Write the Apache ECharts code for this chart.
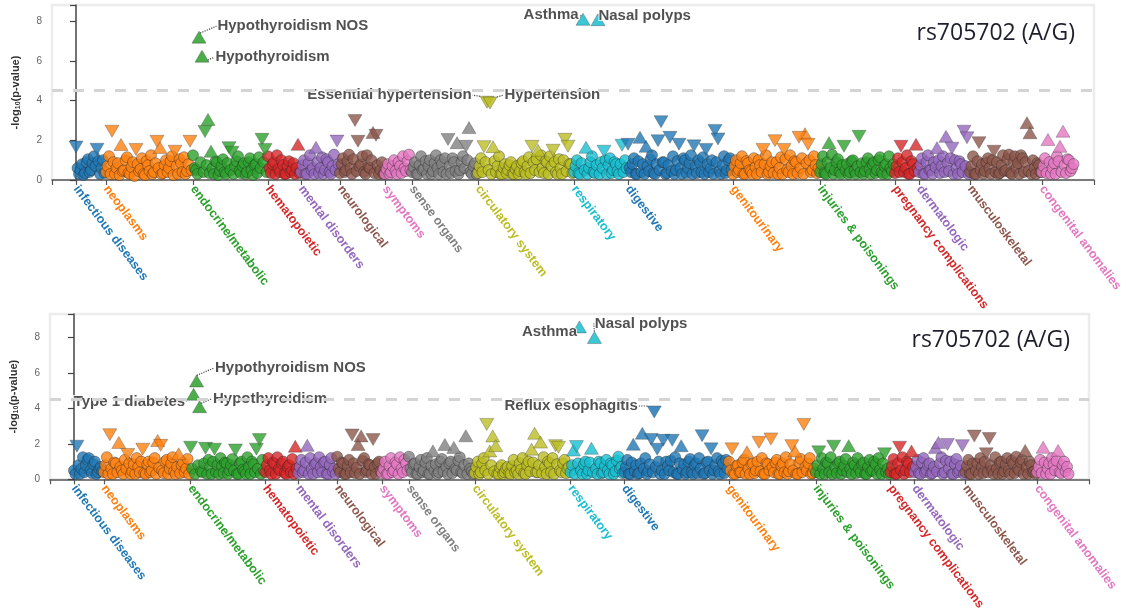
<!DOCTYPE html>
<html>
<head>
<meta charset="utf-8">
<title>PheWAS rs705702</title>
<script src="https://cdn.jsdelivr.net/npm/echarts@6/dist/echarts.min.js"></script>
<style>
  html, body { margin: 0; padding: 0; background: #fff; }
  #chart { width: 1131px; height: 613px; }
</style>
</head>
<body>
<div id="chart"></div>
<script>
// ---- data -------------------------------------------------------------
const snpLabel = 'rs705702 (A/G)';

const categories = [
  'infectious diseases', 'neoplasms', 'endocrine/metabolic', 'hematopoietic',
  'mental disorders', 'neurological', 'symptoms', 'sense organs',
  'circulatory system', 'respiratory', 'digestive', 'genitourinary',
  'injuries & poisonings', 'pregnancy complications', 'dermatologic',
  'musculoskeletal', 'congenital anomalies'
];

const categoryColors = [
  '#1f77b4', '#ff7f0e', '#2ca02c', '#d62728', '#9467bd', '#8c564b',
  '#e377c2', '#7f7f7f', '#bcbd22', '#17becf', '#1f77b4', '#ff7f0e',
  '#2ca02c', '#d62728', '#9467bd', '#8c564b', '#e377c2'
];

// -log10(p) for every phecode, in phecode order inside each category.
// Results with p < 0.05 carry a sign for the direction of effect:
// positive = risk (triangle up), negative = protective (triangle down).
const cohortA = [
  [-1.66,0.6, 0.3,0.5, 0.8,0.25, 0.35,0.9, 1.05,0.4, 0.5,0.85, 1.2,0.7, -1.55,0.95, 0.3,0.6, 1.0,0.35],
  [0.4,0.7, 1.2,0.3, -2.46,0.9, 0.3,0.6, 0.85,0.25, 1.79,0.45, 0.5,1.0, 1.15,0.35, 0.3,0.65, 0.9,0.2, -1.54,0.8, 0.45,0.55, 1.1,0.3, 0.25,0.95, 0.75,0.45, 1.25,0.3, 0.4,0.85, -1.95,0.6, 1.64,0.3, 0.35,0.75, 1.0,0.4, 0.6,0.95, 1.2,0.25, -1.45,0.7, 0.3,1.05, 0.85,0.4, 1.15,0.3, 0.45,0.8, -1.95,0.5],
  [1.25,0.6, 0.5,0.3, 7.2,0.9, 6.24,0.4, -2.44,0.75, 3.05,0.35, 1.45,0.6, 0.3,0.95, 0.9,0.25, 0.45,0.7, 1.05,0.4, 0.3,0.85, -1.63,0.5, -1.4,0.3, 0.7,0.95, 1.2,0.45, 0.35,0.7, 0.85,0.3, 0.4,0.9, 1.1,0.5, 0.25,0.75, 0.8,0.35, 1.15,0.6, -2.05,0.9, -1.54,0.4],
  [1.2,0.6, 0.35,0.8, 0.9,0.3, 1.25,0.55, 0.4,1.0, 0.75,0.3, 0.3,0.7, 0.95,0.4, 0.5,0.85, 0.3,0.6, 1.8,0.35],
  [0.4,0.75, 1.0,0.3, 0.3,0.85, 1.25,0.5, 0.6,0.3, 1.65,0.9, 0.35,0.6, 1.15,0.3, 0.5,1.05, 0.9,0.4, 0.3,0.7, 1.28,0.5, -1.96,0.8],
  [0.35,0.8, 1.1,0.4, 0.5,0.95, 1.28,0.6, 0.3,1.05, -3.0,0.45, -1.95,0.7, 0.8,1.2, 0.4,0.3, 1.25,0.65, 0.6,1.0, 2.4,0.35, -2.25,0.75, 0.3,0.5, 0.9,0.3],
  [0.3,0.55, 0.8,0.3, 0.4,0.7, 1.0,0.45, 0.3,0.9, 0.7,0.35, 1.2,0.6, 0.45,0.95, 1.28,0.5],
  [0.4,0.65, 0.9,0.3, 0.3,0.75, 1.2,0.5, 0.55,0.95, 0.3,0.7, 1.0,0.3, 0.45,0.85, 1.25,0.6, 0.3,1.0, 0.8,0.4, 1.1,0.3, -2.04,0.7, 0.35,1.1, 0.9,0.45, 1.88,0.3, 0.5,0.9, 1.2,0.6, -1.7,1.0, 2.64,0.4, 0.3,0.7, 0.85,0.3],
  [0.35,0.7, 1.1,0.4, -1.68,0.9, -3.92,0.5, -3.88,0.3, 1.68,0.95, 0.4,0.7, 1.2,0.3, 0.3,0.6, 0.8,0.35, 0.5,0.75, 0.9,0.3, 0.3,0.55, 0.7,0.3, 0.45,0.85, 0.95,0.4, 0.3,0.7, 1.15,0.35, -1.7,0.9, 0.5,1.05, 1.5,0.4, 1.25,0.6, 0.35,0.95, 0.9,0.3, 1.2,0.7, -1.5,0.9, 0.4,0.3, 1.05,0.6, 0.3,1.0, -2.05,0.45, -1.7,0.8, 0.8,0.35],
  [0.4,0.7, 1.0,0.35, 0.3,0.85, 8.1,0.5, 1.65,0.3, 0.6,0.9, 1.2,0.4, 0.35,0.75, 8.08,0.3, 0.9,0.6, -1.45,1.0, 0.3,0.75, 1.1,0.35, 0.5,0.9, 0.8,0.45, 0.3,0.8, -1.75,0.4, 1.0,0.6],
  [-1.8,0.6, 0.4,0.8, 1.1,0.3, 0.3,0.95, 2.15,0.4, 0.8,0.3, 1.7,0.7, 0.45,1.05, 1.25,0.35, 0.3,0.8, -1.98,0.5, -2.94,0.9, 0.9,0.3, 0.35,0.75, -2.15,0.45, 1.2,0.3, 0.5,0.95, -1.8,0.6, 0.3,1.1, 1.0,0.35, 0.6,0.85, 1.25,0.3, -1.72,0.7, 0.35,1.0, 0.85,0.4, 1.15,0.3, -1.54,0.8, 0.4,0.6, 1.0,0.3, -2.5,0.9, -2.07,0.45, 0.3,0.75, 1.2,0.35, 0.5,1.0, 1.1,0.5],
  [0.3,0.7, 1.0,0.4, 0.5,0.85, 1.2,0.3, 0.3,0.95, 0.85,0.5, 0.45,0.3, 1.1,0.65, 0.3,1.0, 0.75,0.4, -1.54,0.8, 1.25,0.3, 0.4,0.7, 0.9,0.35, -1.98,0.9, 0.3,0.6, 1.15,0.3, -1.54,1.05, 0.5,0.4, 1.25,0.7, 0.3,0.95, 0.9,0.35, -2.15,0.6, 1.1,0.3, 2.33,0.85, -1.8,1.0, 0.4,0.5, 1.2,0.75, 0.35,0.6],
  [0.4,0.8, 1.2,0.35, 0.3,0.9, 1.88,0.6, 1.28,0.3, 0.5,0.9, 1.05,0.4, 0.3,0.75, -1.7,0.5, 0.8,0.3, 0.4,0.95, 1.0,0.45, 0.3,0.7, -2.2,0.4, 0.85,0.3, 0.45,0.9, 1.1,0.55, 0.3,0.8, 0.9,0.35, 0.5,1.0, 1.15,0.4, 0.3,0.7, 0.8,0.3, 1.2,0.6, 0.45,0.8],
  [0.35,0.7, 1.1,0.4, -1.7,0.9, 0.4,0.6, 1.25,0.3, 0.3,0.95, 0.8,0.45, 1.8,0.6],
  [0.4,0.75, 1.1,0.3, 0.3,0.9, 1.25,0.5, 0.5,0.3, 0.9,0.65, 1.63,1.0, 0.35,0.7, 1.2,0.4, 2.2,0.85, 0.45,1.1, -1.6,0.3, 1.0,0.6, 0.3,0.95, 0.8,0.4, -2.46,0.7, -2.13,0.3],
  [0.4,0.7, 1.2,0.3, 0.3,0.95, -1.88,0.5, 0.8,0.3, 0.45,0.9, 1.1,0.6, 0.3,1.0, -1.45,0.4, 0.9,0.3, 0.35,0.75, 1.25,0.45, 0.5,1.05, 1.28,0.35, 0.3,0.9, 1.2,0.6, 0.85,0.3, 1.25,1.1, 0.4,0.9, 2.89,0.45, 2.38,0.3, 1.0,0.6, 0.3,0.85, 0.75,0.4],
  [0.4,0.7, 1.1,0.35, 2.04,0.9, 0.3,0.6, 0.85,0.3, 1.2,0.95, 1.7,0.4, 2.46,0.75, 0.35,1.05, 1.0,0.45, 0.6,0.8]
];

const cohortB = [
  [0.5,0.3, -1.87,0.8, 0.3,0.6, 1.25,0.4, 0.8,1.1, 1.2,0.5, 0.35,0.85, 1.0,0.3, 0.4,0.6, 0.7,0.45],
  [0.4,0.8, 1.25,0.3, -2.52,0.6, 0.3,0.95, 0.9,0.4, 2.08,0.7, 0.5,0.3, 1.1,0.6, -1.4,0.9, 0.3,0.45, 0.85,0.3, 1.2,0.7, 0.4,1.0, -1.7,0.35, 0.3,0.85, 1.0,0.4, 0.5,0.95, 1.2,0.3, 2.19,0.65, -1.92,0.5, 0.35,1.0, 1.1,0.3, 0.6,0.9, 1.25,0.45, 0.3,0.7, 1.44,0.35, 0.8,0.95, 0.4,0.6, 1.15,0.3],
  [-1.81,0.6, 4.8,0.3, 5.55,0.8, 4.1,0.45, 0.4,0.9, -1.75,0.3, 1.1,0.7, 0.3,1.0, -1.7,0.4, 0.8,0.3, 1.2,0.75, 0.35,0.95, 0.9,0.3, 0.5,0.8, 1.15,0.5, -1.65,0.3, 0.3,0.9, 1.0,0.55, 0.45,0.3, 1.25,0.7, 0.3,1.0, 0.85,0.4, -1.7,0.6, -2.24,0.3, 1.1,0.5],
  [0.4,0.8, 1.2,0.5, 0.3,0.95, 0.9,0.3, 1.25,0.6, 0.5,0.9, 1.0,0.35, 0.3,0.7, 0.8,0.4, 1.15,0.3, 1.87,0.6],
  [0.35,0.7, 1.1,0.4, 0.5,0.95, 1.92,0.3, 1.2,0.6, 0.3,0.85, 0.9,0.4, 1.25,0.7, 0.4,0.95, 1.0,0.3, 0.3,0.8, 1.2,0.45, 0.6,0.3],
  [1.28,0.6, 0.4,0.95, 0.9,0.3, 0.3,0.75, 1.1,0.4, -2.5,0.9, 0.35,0.65, 1.97,0.3, 2.45,1.05, 1.2,0.4, 0.5,0.85, 0.8,0.3, -2.24,0.7, 0.3,0.9, 1.0,0.45],
  [0.35,0.6, 1.0,0.3, 0.3,0.75, 1.2,0.4, 0.5,0.95, 0.85,0.3, 1.25,0.6, 0.4,1.1, 0.9,0.5],
  [1.28,0.6, 0.4,0.85, 0.9,0.3, 0.3,0.7, 1.1,0.4, 0.5,0.95, 1.2,0.3, 0.3,0.75, 1.6,0.5, 0.85,0.3, 0.4,1.0, 1.15,0.45, 1.97,0.7, 0.3,0.9, 1.0,0.35, 1.8,0.6, 0.5,1.05, 1.25,0.4, 0.35,0.8, 2.46,0.3, 0.9,0.6, 0.45,0.3],
  [0.35,0.7, 1.0,0.3, 0.4,0.9, 1.2,0.5, -3.1,0.3, 1.6,0.8, 2.45,0.45, 1.9,0.3, 0.3,0.65, 0.8,0.3, 0.4,0.6, 0.7,0.35, 0.3,0.75, 1.1,0.4, 0.5,0.3, 0.9,0.55, 1.2,0.35, 0.3,0.8, 1.0,0.45, 1.7,0.95, 2.6,0.4, 0.4,0.8, 2.1,0.35, 1.25,0.7, 0.3,1.0, 0.9,0.4, 1.2,0.3, -1.9,0.85, -1.81,0.5, 0.4,0.9, 1.1,0.35, 0.6,0.7],
  [0.4,0.8, 1.65,0.3, -1.85,0.9, 8.6,0.5, 0.3,0.85, 1.0,0.3, 0.5,0.95, 1.75,0.4, 8.0,0.6, 0.3,1.0, 0.9,0.35, 0.4,0.75, 1.1,0.5, 0.3,0.9, 0.8,0.3, 0.45,1.05, 1.28,0.6, 0.7,0.35],
  [0.4,0.7, 1.1,0.3, 0.3,0.95, 1.98,0.45, 0.8,0.3, 0.35,0.9, 2.6,0.6, 1.2,0.3, 0.45,0.85, -2.25,0.4, -3.8,0.7, -1.7,1.0, 0.3,0.5, -2.2,0.3, 1.0,0.75, 0.5,1.05, -2.2,0.4, 1.25,0.3, 0.3,0.9, 1.9,0.55, 0.85,0.3, 0.4,1.0, 1.15,0.4, 0.3,0.8, 0.9,0.35, 1.2,0.6, -2.46,0.3, 0.35,0.95, 1.0,0.5, -1.72,0.3, 0.5,0.8, 1.2,0.45, 0.3,1.05, 0.9,0.35, 1.1,0.6],
  [1.0,0.5, -1.72,0.3, 0.3,0.75, 0.8,0.4, 0.4,0.95, 1.1,0.3, 1.55,0.6, 0.3,0.85, 0.9,0.35, 0.5,1.0, -2.09,0.45, 1.2,0.3, 0.3,0.9, 0.85,0.5, -2.28,0.7, 0.4,0.95, 1.1,0.3, 0.3,0.75, 0.9,0.4, 1.25,0.3, 0.45,0.85, -1.9,0.5, 1.6,0.3, 0.3,0.95, 1.15,0.4, -3.1,0.7, 0.5,0.9, 1.2,0.3, 0.35,0.6],
  [0.4,0.8, -1.55,0.3, 1.2,0.6, 0.3,0.95, 0.9,0.4, 1.25,0.3, -1.87,0.7, 0.35,0.9, 1.0,0.3, 0.5,0.75, 1.15,0.4, 1.9,0.6, 0.3,0.95, 0.8,0.35, 1.2,0.6, 0.4,0.85, 0.95,0.3, 0.3,0.7, 1.1,0.45, 0.5,1.0, 0.85,0.3, 1.2,0.55, 0.3,0.9, -1.44,0.4, 0.6,0.3],
  [0.4,0.75, 1.15,0.3, 0.3,0.9, -1.81,0.5, 1.25,0.3, 0.5,1.0, 0.9,0.4, 1.6,0.7],
  [0.4,0.7, 1.1,0.35, 0.3,0.95, 1.2,0.4, 0.5,0.8, 0.9,0.3, 0.35,0.7, 1.8,0.45, 2.08,0.9, 1.25,0.3, 0.4,1.05, -1.97,0.6, 1.0,0.3, 0.3,0.85, 1.15,0.4, 0.5,0.75, -1.9,0.3],
  [0.4,0.75, 1.1,0.3, 0.3,0.9, -2.44,0.5, 0.9,0.3, 1.2,0.7, 0.35,1.0, -1.44,0.4, -2.3,0.8, 0.5,0.3, 1.25,0.6, 0.3,0.95, 1.0,0.3, 0.45,0.85, 1.2,0.5, 0.3,1.05, 0.9,0.35, 1.28,0.6, 0.5,0.95, 1.1,0.3, 1.63,0.7, 0.3,1.0, 0.8,0.4, 0.45,0.3],
  [0.4,0.7, 1.1,0.35, 1.81,0.95, 0.3,0.6, 0.9,0.3, 1.2,0.85, 0.5,1.05, 1.63,0.4, 0.35,0.8, 1.0,0.45, 0.7,0.3]
];

// Named phenotypes: [phecode position, name]
const notesA = [
  [82, 'Hypothyroidism NOS'], [84, 'Hypothyroidism'],
  [274, 'Essential hypertension'], [276, 'Hypertension'],
  [338, 'Asthma'], [348, 'Nasal polyps']
];
const notesB = [
  [80, 'Type 1 diabetes'], [82, 'Hypothyroidism NOS'], [84, 'Hypothyroidism'],
  [338, 'Asthma'], [348, 'Nasal polyps'], [388, 'Reflux esophagitis']
];

const yTickValues = [0, 2, 4, 6, 8];
const significanceLine = 4.5;   // study-wide cut-off in -log10(p)
const nominalCut = 1.301;       // -log10(0.05)

// ---- layout & styling -------------------------------------------------
const LABEL_FONT = 'Liberation Sans';
const xMin = -16, xMax = 678.67;

// label side and nudge (px) for each named phenotype
const labelPlacement = [
  {
    'Hypothyroidism NOS': ['right', 11, -11],
    'Hypothyroidism': ['right', 6, 1],
    'Essential hypertension': ['left', -8, -7],
    'Hypertension': ['right', 7, -8],
    'Asthma': ['left', 3, -4],
    'Nasal polyps': ['right', -7, -4]
  },
  {
    'Hypothyroidism NOS': ['right', 11, -13],
    'Type 1 diabetes': ['left', -1, 8],
    'Hypothyroidism': ['right', 6, -8],
    'Asthma': ['left', 5, 5],
    'Nasal polyps': ['right', -7, -14],
    'Reflux esophagitis': ['left', -9, -6]
  }
];

const panels = [
  { values: cohortA, notes: notesA, grid: { left: 52, top: 5, width: 1042, height: 175 }, yMax: 8.82, title: { right: 56, top: 22 } },
  { values: cohortB, notes: notesB, grid: { left: 48, top: 314, width: 1041, height: 175 }, yMax: 9.33, title: { right: 61, top: 329 } }
];

// category start positions along the phecode axis
const starts = [];
{
  let acc = 0;
  cohortA.forEach(list => { starts.push(acc); acc += list.length; });
}

const rich = {};
categoryColors.forEach((c, i) => {
  rich['c' + i] = { color: c, fontFamily: LABEL_FONT, fontSize: 12.5, fontWeight: 'bold' };
});

const grids = [], xAxes = [], yAxes = [], series = [], titles = [];

panels.forEach((panel, p) => {
  grids.push(Object.assign({ show: true, borderColor: '#ececec', borderWidth: 2.5, backgroundColor: 'transparent' }, panel.grid));

  xAxes.push({
    gridIndex: p, type: 'value', min: xMin, max: xMax,
    axisLine: { show: true, onZero: false, lineStyle: { color: '#555', width: 1.5 } },
    axisTick: { show: true, customValues: [xMin].concat(starts, [xMax]), length: 5, lineStyle: { color: '#555', width: 1.2 } },
    axisLabel: {
      show: true, customValues: starts, rotate: -53, margin: 7,
      formatter: v => {
        const i = starts.indexOf(Math.round(v));
        return i < 0 ? '' : '{c' + i + '|' + categories[i] + '}';
      },
      rich
    },
    splitLine: { show: false }
  });

  yAxes.push({
    gridIndex: p, type: 'value', min: 0, max: panel.yMax,
    name: '{a|-log}{s|10}{a|(p-value)}', nameLocation: 'middle', nameGap: 30,
    nameTextStyle: {
      rich: {
        a: { fontFamily: LABEL_FONT, fontSize: 11, fontWeight: 'bold', color: '#333' },
        s: { fontFamily: LABEL_FONT, fontSize: 7, fontWeight: 'bold', color: '#333', verticalAlign: 'bottom', padding: [6, 0, 0, 0] }
      }
    },
    axisLine: { show: true, lineStyle: { color: '#444', width: 1.5 } },
    axisTick: { show: true, customValues: yTickValues.concat([panel.yMax]), length: 6, lineStyle: { color: '#444', width: 1.2 } },
    axisLabel: { customValues: yTickValues, color: '#666', fontSize: 10, margin: 10, fontFamily: LABEL_FONT },
    splitLine: { show: false }
  });

  titles.push({
    text: snpLabel, right: panel.title.right, top: panel.title.top, padding: 0,
    textStyle: { fontFamily: 'Open Sans', fontSize: 23, fontWeight: 'normal', color: '#1f1f2b' }
  });

  // flatten phecodes
  const flat = [], catOf = [];
  panel.values.forEach((list, c) => list.forEach(v => { flat.push(v); catOf.push(c); }));
  const named = new Set(panel.notes.map(n => n[0]));

  const circles = [], ups = [], downs = [];
  flat.forEach((v, x) => {
    if (named.has(x)) return;
    const item = { value: [x, Math.abs(v)], itemStyle: { color: categoryColors[catOf[x]] } };
    if (Math.abs(v) < nominalCut) circles.push(item);
    else if (v > 0) ups.push(item);
    else downs.push(item);
  });

  series.push({
    type: 'scatter', xAxisIndex: p, yAxisIndex: p, symbol: 'circle', symbolSize: 11,
    data: circles, z: 2, silent: true,
    itemStyle: { borderColor: 'rgba(35,35,35,0.6)', borderWidth: 0.8 },
    markLine: {
      silent: true, symbol: 'none', label: { show: false },
      lineStyle: { color: '#d4d4d4', width: 3, type: [11, 10] },
      data: [{ yAxis: significanceLine }]
    }
  });
  series.push({
    type: 'scatter', xAxisIndex: p, yAxisIndex: p, symbol: 'triangle', symbolSize: [14, 12],
    data: ups, z: 3, silent: true,
    itemStyle: { borderColor: 'rgba(60,60,60,0.5)', borderWidth: 0.8, opacity: 0.8 }
  });
  series.push({
    type: 'scatter', xAxisIndex: p, yAxisIndex: p, symbol: 'triangle', symbolRotate: 180, symbolSize: [14, 12],
    data: downs, z: 3, silent: true,
    itemStyle: { borderColor: 'rgba(60,60,60,0.5)', borderWidth: 0.8, opacity: 0.8 }
  });

  panel.notes.forEach(([x, name]) => {
    const v = flat[x];
    const [side, dx, dy] = labelPlacement[p][name];
    series.push({
      type: 'scatter', xAxisIndex: p, yAxisIndex: p, symbol: 'triangle',
      symbolRotate: v < 0 ? 180 : 0, symbolSize: [14, 12], z: 4, silent: true,
      itemStyle: { color: categoryColors[catOf[x]], borderColor: 'rgba(60,60,60,0.5)', borderWidth: 0.8, opacity: 0.85 },
      data: [[x, Math.abs(v)]],
      label: {
        show: true, position: side, distance: 0, formatter: name,
        fontFamily: LABEL_FONT, fontSize: 15, fontWeight: 'bold', color: '#333',
        textBorderColor: '#fff', textBorderWidth: 2
      },
      labelLayout: { dx: dx, dy: dy },
      labelLine: { show: true, lineStyle: { type: 'dotted', color: '#444', width: 1.2 } }
    });
  });
});

const chart = echarts.init(document.getElementById('chart'));
chart.setOption({
  animation: false,
  backgroundColor: '#fff',
  title: titles,
  grid: grids,
  xAxis: xAxes,
  yAxis: yAxes,
  series: series
});
</script>
</body>
</html>
